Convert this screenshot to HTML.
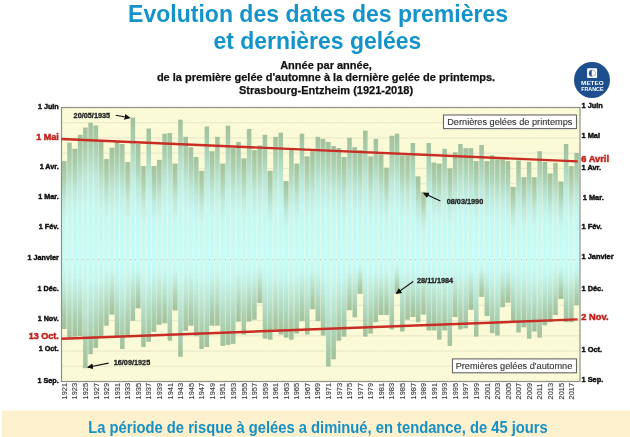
<!DOCTYPE html><html><head><meta charset="utf-8"><style>html,body{margin:0;padding:0;background:#fff;width:630px;height:437px;overflow:hidden}svg{display:block}text{font-family:"Liberation Sans", sans-serif}</style></head><body>
<svg style="will-change:transform" width="630" height="437" viewBox="0 0 630 437">
<defs>
<pattern id="hatch" patternUnits="userSpaceOnUse" width="3.6" height="3.6" patternTransform="rotate(45)"><rect width="3.6" height="3.6" fill="#fbfbd8"/><line x1="0" y1="0" x2="0" y2="3.6" stroke="#f3f3d0" stroke-width="0.9"/></pattern>
<linearGradient id="gt" x1="0" y1="0" x2="0" y2="1"><stop offset="0" stop-color="#a2c19b"/><stop offset="0.18" stop-color="#abd1b3"/><stop offset="0.38" stop-color="#bde9dc"/><stop offset="0.6" stop-color="#c6f8f2"/><stop offset="1" stop-color="#c8fcf8"/></linearGradient>
<linearGradient id="gb" x1="0" y1="0" x2="0" y2="1"><stop offset="0" stop-color="#c8fcf8"/><stop offset="0.22" stop-color="#c5f7f0"/><stop offset="0.5" stop-color="#b9e4d2"/><stop offset="0.8" stop-color="#a8cdae"/><stop offset="1" stop-color="#a2c19b"/></linearGradient>
<marker id="ah" markerWidth="6" markerHeight="6" refX="5" refY="3" orient="auto" markerUnits="userSpaceOnUse"><path d="M0,0 L6,3 L0,6 z" fill="#111"/></marker>
</defs>
<text x="128.1" y="21.6" font-size="23.8" font-weight="bold" fill="#1493cb" textLength="380" lengthAdjust="spacingAndGlyphs">Evolution des dates des premières</text>
<text x="213.4" y="49" font-size="23.8" font-weight="bold" fill="#1493cb" textLength="208" lengthAdjust="spacingAndGlyphs">et dernières gelées</text>
<text x="326" y="69.0" text-anchor="middle" font-size="11" font-weight="bold" fill="#111" stroke="#111" stroke-width="0.25">Année par année,</text>
<text x="326" y="81.1" text-anchor="middle" font-size="11" font-weight="bold" fill="#111" stroke="#111" stroke-width="0.25">de la première gelée d&#39;automne à la dernière gelée de printemps.</text>
<text x="326" y="93.8" text-anchor="middle" font-size="11" font-weight="bold" fill="#111" stroke="#111" stroke-width="0.25">Strasbourg-Entzheim (1921-2018)</text>
<circle cx="592" cy="80" r="18" fill="#1d4f8e"/>
<rect x="587.1" y="68.3" width="10" height="9.8" rx="0.8" fill="#fff"/>
<circle cx="592.3" cy="73.2" r="3.2" fill="none" stroke="#5d7fa8" stroke-width="0.5"/>
<path d="M592.3,69.9 A3.3,3.3 0 0 0 592.3,76.5 A0.7,3.3 0 0 1 592.3,69.9 z" fill="#1d4f8e"/>
<text x="592.4" y="85.1" text-anchor="middle" font-size="5.7" font-weight="bold" fill="#fff" textLength="22.6" lengthAdjust="spacingAndGlyphs">METEO</text>
<text x="592.4" y="90.9" text-anchor="middle" font-size="5.5" font-weight="bold" fill="#fff" textLength="22.4" lengthAdjust="spacingAndGlyphs">FRANCE</text>
<rect x="61.50" y="107.50" width="518.50" height="274.00" fill="url(#hatch)"/>
<line x1="61.50" y1="122.72" x2="580.00" y2="122.72" stroke="#e7e7cb" stroke-width="1"/>
<line x1="61.50" y1="137.94" x2="580.00" y2="137.94" stroke="#e7e7cb" stroke-width="1"/>
<line x1="61.50" y1="153.17" x2="580.00" y2="153.17" stroke="#e7e7cb" stroke-width="1"/>
<line x1="61.50" y1="168.39" x2="580.00" y2="168.39" stroke="#e7e7cb" stroke-width="1"/>
<line x1="61.50" y1="183.61" x2="580.00" y2="183.61" stroke="#e7e7cb" stroke-width="1"/>
<line x1="61.50" y1="198.83" x2="580.00" y2="198.83" stroke="#e7e7cb" stroke-width="1"/>
<line x1="61.50" y1="214.06" x2="580.00" y2="214.06" stroke="#e7e7cb" stroke-width="1"/>
<line x1="61.50" y1="229.28" x2="580.00" y2="229.28" stroke="#e7e7cb" stroke-width="1"/>
<line x1="61.50" y1="244.50" x2="580.00" y2="244.50" stroke="#e7e7cb" stroke-width="1"/>
<line x1="61.50" y1="259.72" x2="580.00" y2="259.72" stroke="#e7e7cb" stroke-width="1"/>
<line x1="61.50" y1="274.94" x2="580.00" y2="274.94" stroke="#e7e7cb" stroke-width="1"/>
<line x1="61.50" y1="290.17" x2="580.00" y2="290.17" stroke="#e7e7cb" stroke-width="1"/>
<line x1="61.50" y1="305.39" x2="580.00" y2="305.39" stroke="#e7e7cb" stroke-width="1"/>
<line x1="61.50" y1="320.61" x2="580.00" y2="320.61" stroke="#e7e7cb" stroke-width="1"/>
<line x1="61.50" y1="335.83" x2="580.00" y2="335.83" stroke="#e7e7cb" stroke-width="1"/>
<line x1="61.50" y1="351.06" x2="580.00" y2="351.06" stroke="#e7e7cb" stroke-width="1"/>
<line x1="61.50" y1="366.28" x2="580.00" y2="366.28" stroke="#e7e7cb" stroke-width="1"/>
<rect x="61.95" y="161.11" width="4.50" height="98.49" fill="url(#gt)"/>
<rect x="61.95" y="259.60" width="4.50" height="69.39" fill="url(#gb)"/>
<rect x="67.23" y="142.56" width="4.50" height="117.04" fill="url(#gt)"/>
<rect x="67.23" y="259.60" width="4.50" height="77.63" fill="url(#gb)"/>
<rect x="72.52" y="148.75" width="4.50" height="110.85" fill="url(#gt)"/>
<rect x="72.52" y="259.60" width="4.50" height="77.02" fill="url(#gb)"/>
<rect x="77.80" y="134.73" width="4.50" height="124.87" fill="url(#gt)"/>
<rect x="77.80" y="259.60" width="4.50" height="76.40" fill="url(#gb)"/>
<rect x="83.08" y="127.52" width="4.50" height="132.08" fill="url(#gt)"/>
<rect x="83.08" y="259.60" width="4.50" height="108.55" fill="url(#gb)"/>
<rect x="88.37" y="122.78" width="4.50" height="136.82" fill="url(#gt)"/>
<rect x="88.37" y="259.60" width="4.50" height="94.54" fill="url(#gb)"/>
<rect x="93.65" y="125.46" width="4.50" height="134.14" fill="url(#gt)"/>
<rect x="93.65" y="259.60" width="4.50" height="88.35" fill="url(#gb)"/>
<rect x="98.93" y="141.95" width="4.50" height="117.65" fill="url(#gt)"/>
<rect x="98.93" y="259.60" width="4.50" height="76.40" fill="url(#gb)"/>
<rect x="104.21" y="159.05" width="4.50" height="100.55" fill="url(#gt)"/>
<rect x="104.21" y="259.60" width="4.50" height="66.09" fill="url(#gb)"/>
<rect x="109.50" y="147.72" width="4.50" height="111.88" fill="url(#gt)"/>
<rect x="109.50" y="259.60" width="4.50" height="54.96" fill="url(#gb)"/>
<rect x="114.78" y="141.95" width="4.50" height="117.65" fill="url(#gt)"/>
<rect x="114.78" y="259.60" width="4.50" height="76.40" fill="url(#gb)"/>
<rect x="120.06" y="144.01" width="4.50" height="115.59" fill="url(#gt)"/>
<rect x="120.06" y="259.60" width="4.50" height="89.38" fill="url(#gb)"/>
<rect x="125.35" y="162.14" width="4.50" height="97.46" fill="url(#gt)"/>
<rect x="125.35" y="259.60" width="4.50" height="76.40" fill="url(#gb)"/>
<rect x="130.63" y="117.63" width="4.50" height="141.97" fill="url(#gt)"/>
<rect x="130.63" y="259.60" width="4.50" height="61.15" fill="url(#gb)"/>
<rect x="135.91" y="144.01" width="4.50" height="115.59" fill="url(#gt)"/>
<rect x="135.91" y="259.60" width="4.50" height="48.78" fill="url(#gb)"/>
<rect x="141.19" y="166.06" width="4.50" height="93.54" fill="url(#gt)"/>
<rect x="141.19" y="259.60" width="4.50" height="87.32" fill="url(#gb)"/>
<rect x="146.48" y="128.55" width="4.50" height="131.05" fill="url(#gt)"/>
<rect x="146.48" y="259.60" width="4.50" height="82.17" fill="url(#gb)"/>
<rect x="151.76" y="166.06" width="4.50" height="93.54" fill="url(#gt)"/>
<rect x="151.76" y="259.60" width="4.50" height="72.28" fill="url(#gb)"/>
<rect x="157.04" y="159.88" width="4.50" height="99.72" fill="url(#gt)"/>
<rect x="157.04" y="259.60" width="4.50" height="65.27" fill="url(#gb)"/>
<rect x="162.33" y="133.70" width="4.50" height="125.90" fill="url(#gt)"/>
<rect x="162.33" y="259.60" width="4.50" height="63.62" fill="url(#gb)"/>
<rect x="167.61" y="133.08" width="4.50" height="126.52" fill="url(#gt)"/>
<rect x="167.61" y="259.60" width="4.50" height="81.14" fill="url(#gb)"/>
<rect x="172.89" y="163.59" width="4.50" height="96.01" fill="url(#gt)"/>
<rect x="172.89" y="259.60" width="4.50" height="50.84" fill="url(#gb)"/>
<rect x="178.18" y="119.69" width="4.50" height="139.91" fill="url(#gt)"/>
<rect x="178.18" y="259.60" width="4.50" height="97.21" fill="url(#gb)"/>
<rect x="183.46" y="136.79" width="4.50" height="122.81" fill="url(#gt)"/>
<rect x="183.46" y="259.60" width="4.50" height="71.25" fill="url(#gb)"/>
<rect x="188.74" y="147.10" width="4.50" height="112.50" fill="url(#gt)"/>
<rect x="188.74" y="259.60" width="4.50" height="66.09" fill="url(#gb)"/>
<rect x="194.03" y="156.99" width="4.50" height="102.61" fill="url(#gt)"/>
<rect x="194.03" y="259.60" width="4.50" height="76.60" fill="url(#gb)"/>
<rect x="199.31" y="170.80" width="4.50" height="88.80" fill="url(#gt)"/>
<rect x="199.31" y="259.60" width="4.50" height="89.38" fill="url(#gb)"/>
<rect x="204.59" y="126.49" width="4.50" height="133.11" fill="url(#gt)"/>
<rect x="204.59" y="259.60" width="4.50" height="87.32" fill="url(#gb)"/>
<rect x="209.87" y="151.22" width="4.50" height="108.38" fill="url(#gt)"/>
<rect x="209.87" y="259.60" width="4.50" height="66.09" fill="url(#gb)"/>
<rect x="215.16" y="136.79" width="4.50" height="122.81" fill="url(#gt)"/>
<rect x="215.16" y="259.60" width="4.50" height="66.09" fill="url(#gb)"/>
<rect x="220.44" y="163.59" width="4.50" height="96.01" fill="url(#gt)"/>
<rect x="220.44" y="259.60" width="4.50" height="86.29" fill="url(#gb)"/>
<rect x="225.72" y="125.66" width="4.50" height="133.94" fill="url(#gt)"/>
<rect x="225.72" y="259.60" width="4.50" height="85.26" fill="url(#gb)"/>
<rect x="231.01" y="148.13" width="4.50" height="111.47" fill="url(#gt)"/>
<rect x="231.01" y="259.60" width="4.50" height="84.23" fill="url(#gb)"/>
<rect x="236.29" y="141.95" width="4.50" height="117.65" fill="url(#gt)"/>
<rect x="236.29" y="259.60" width="4.50" height="61.97" fill="url(#gb)"/>
<rect x="241.57" y="158.43" width="4.50" height="101.17" fill="url(#gt)"/>
<rect x="241.57" y="259.60" width="4.50" height="74.96" fill="url(#gb)"/>
<rect x="246.86" y="128.96" width="4.50" height="130.64" fill="url(#gt)"/>
<rect x="246.86" y="259.60" width="4.50" height="61.97" fill="url(#gb)"/>
<rect x="252.14" y="150.19" width="4.50" height="109.41" fill="url(#gt)"/>
<rect x="252.14" y="259.60" width="4.50" height="60.12" fill="url(#gb)"/>
<rect x="257.42" y="145.45" width="4.50" height="114.15" fill="url(#gt)"/>
<rect x="257.42" y="259.60" width="4.50" height="43.42" fill="url(#gb)"/>
<rect x="262.70" y="134.73" width="4.50" height="124.87" fill="url(#gt)"/>
<rect x="262.70" y="259.60" width="4.50" height="79.08" fill="url(#gb)"/>
<rect x="267.99" y="170.80" width="4.50" height="88.80" fill="url(#gt)"/>
<rect x="267.99" y="259.60" width="4.50" height="80.11" fill="url(#gb)"/>
<rect x="273.27" y="136.79" width="4.50" height="122.81" fill="url(#gt)"/>
<rect x="273.27" y="259.60" width="4.50" height="69.80" fill="url(#gb)"/>
<rect x="278.55" y="132.67" width="4.50" height="126.93" fill="url(#gt)"/>
<rect x="278.55" y="259.60" width="4.50" height="74.96" fill="url(#gb)"/>
<rect x="283.84" y="181.10" width="4.50" height="78.50" fill="url(#gt)"/>
<rect x="283.84" y="259.60" width="4.50" height="78.05" fill="url(#gb)"/>
<rect x="289.12" y="150.19" width="4.50" height="109.41" fill="url(#gt)"/>
<rect x="289.12" y="259.60" width="4.50" height="80.11" fill="url(#gb)"/>
<rect x="294.40" y="163.59" width="4.50" height="96.01" fill="url(#gt)"/>
<rect x="294.40" y="259.60" width="4.50" height="73.93" fill="url(#gb)"/>
<rect x="299.69" y="133.70" width="4.50" height="125.90" fill="url(#gt)"/>
<rect x="299.69" y="259.60" width="4.50" height="61.56" fill="url(#gb)"/>
<rect x="304.97" y="156.37" width="4.50" height="103.23" fill="url(#gt)"/>
<rect x="304.97" y="259.60" width="4.50" height="74.96" fill="url(#gb)"/>
<rect x="310.25" y="151.22" width="4.50" height="108.38" fill="url(#gt)"/>
<rect x="310.25" y="259.60" width="4.50" height="49.61" fill="url(#gb)"/>
<rect x="315.53" y="136.79" width="4.50" height="122.81" fill="url(#gt)"/>
<rect x="315.53" y="259.60" width="4.50" height="61.56" fill="url(#gb)"/>
<rect x="320.82" y="138.85" width="4.50" height="120.75" fill="url(#gt)"/>
<rect x="320.82" y="259.60" width="4.50" height="75.99" fill="url(#gb)"/>
<rect x="326.10" y="141.95" width="4.50" height="117.65" fill="url(#gt)"/>
<rect x="326.10" y="259.60" width="4.50" height="106.90" fill="url(#gb)"/>
<rect x="331.38" y="146.07" width="4.50" height="113.53" fill="url(#gt)"/>
<rect x="331.38" y="259.60" width="4.50" height="99.69" fill="url(#gb)"/>
<rect x="336.67" y="148.13" width="4.50" height="111.47" fill="url(#gt)"/>
<rect x="336.67" y="259.60" width="4.50" height="81.14" fill="url(#gb)"/>
<rect x="341.95" y="156.99" width="4.50" height="102.61" fill="url(#gt)"/>
<rect x="341.95" y="259.60" width="4.50" height="77.02" fill="url(#gb)"/>
<rect x="347.23" y="137.82" width="4.50" height="121.78" fill="url(#gt)"/>
<rect x="347.23" y="259.60" width="4.50" height="50.64" fill="url(#gb)"/>
<rect x="352.51" y="147.10" width="4.50" height="112.50" fill="url(#gt)"/>
<rect x="352.51" y="259.60" width="4.50" height="57.85" fill="url(#gb)"/>
<rect x="357.80" y="150.19" width="4.50" height="109.41" fill="url(#gt)"/>
<rect x="357.80" y="259.60" width="4.50" height="34.15" fill="url(#gb)"/>
<rect x="363.08" y="130.61" width="4.50" height="128.99" fill="url(#gt)"/>
<rect x="363.08" y="259.60" width="4.50" height="77.02" fill="url(#gb)"/>
<rect x="368.36" y="156.37" width="4.50" height="103.23" fill="url(#gt)"/>
<rect x="368.36" y="259.60" width="4.50" height="73.93" fill="url(#gb)"/>
<rect x="373.65" y="138.85" width="4.50" height="120.75" fill="url(#gt)"/>
<rect x="373.65" y="259.60" width="4.50" height="62.59" fill="url(#gb)"/>
<rect x="378.93" y="154.31" width="4.50" height="105.29" fill="url(#gt)"/>
<rect x="378.93" y="259.60" width="4.50" height="55.38" fill="url(#gb)"/>
<rect x="384.21" y="167.71" width="4.50" height="91.89" fill="url(#gt)"/>
<rect x="384.21" y="259.60" width="4.50" height="55.38" fill="url(#gb)"/>
<rect x="389.50" y="135.76" width="4.50" height="123.84" fill="url(#gt)"/>
<rect x="389.50" y="259.60" width="4.50" height="69.80" fill="url(#gb)"/>
<rect x="394.78" y="133.70" width="4.50" height="125.90" fill="url(#gt)"/>
<rect x="394.78" y="259.60" width="4.50" height="33.74" fill="url(#gb)"/>
<rect x="400.06" y="155.34" width="4.50" height="104.26" fill="url(#gt)"/>
<rect x="400.06" y="259.60" width="4.50" height="71.86" fill="url(#gb)"/>
<rect x="405.35" y="155.34" width="4.50" height="104.26" fill="url(#gt)"/>
<rect x="405.35" y="259.60" width="4.50" height="60.12" fill="url(#gb)"/>
<rect x="410.63" y="142.98" width="4.50" height="116.62" fill="url(#gt)"/>
<rect x="410.63" y="259.60" width="4.50" height="57.44" fill="url(#gb)"/>
<rect x="415.91" y="176.36" width="4.50" height="83.24" fill="url(#gt)"/>
<rect x="415.91" y="259.60" width="4.50" height="62.59" fill="url(#gb)"/>
<rect x="421.19" y="191.82" width="4.50" height="67.78" fill="url(#gt)"/>
<rect x="421.19" y="259.60" width="4.50" height="54.96" fill="url(#gb)"/>
<rect x="426.48" y="142.98" width="4.50" height="116.62" fill="url(#gt)"/>
<rect x="426.48" y="259.60" width="4.50" height="70.83" fill="url(#gb)"/>
<rect x="431.76" y="162.56" width="4.50" height="97.04" fill="url(#gt)"/>
<rect x="431.76" y="259.60" width="4.50" height="70.83" fill="url(#gb)"/>
<rect x="437.04" y="163.59" width="4.50" height="96.01" fill="url(#gt)"/>
<rect x="437.04" y="259.60" width="4.50" height="80.11" fill="url(#gb)"/>
<rect x="442.33" y="148.75" width="4.50" height="110.85" fill="url(#gt)"/>
<rect x="442.33" y="259.60" width="4.50" height="70.83" fill="url(#gb)"/>
<rect x="447.61" y="168.33" width="4.50" height="91.27" fill="url(#gt)"/>
<rect x="447.61" y="259.60" width="4.50" height="86.29" fill="url(#gb)"/>
<rect x="452.89" y="152.25" width="4.50" height="107.35" fill="url(#gt)"/>
<rect x="452.89" y="259.60" width="4.50" height="57.44" fill="url(#gb)"/>
<rect x="458.18" y="144.01" width="4.50" height="115.59" fill="url(#gt)"/>
<rect x="458.18" y="259.60" width="4.50" height="69.80" fill="url(#gb)"/>
<rect x="463.46" y="148.13" width="4.50" height="111.47" fill="url(#gt)"/>
<rect x="463.46" y="259.60" width="4.50" height="68.77" fill="url(#gb)"/>
<rect x="468.74" y="148.13" width="4.50" height="111.47" fill="url(#gt)"/>
<rect x="468.74" y="259.60" width="4.50" height="50.22" fill="url(#gb)"/>
<rect x="474.02" y="161.11" width="4.50" height="98.49" fill="url(#gt)"/>
<rect x="474.02" y="259.60" width="4.50" height="77.02" fill="url(#gb)"/>
<rect x="479.31" y="145.04" width="4.50" height="114.56" fill="url(#gt)"/>
<rect x="479.31" y="259.60" width="4.50" height="37.24" fill="url(#gb)"/>
<rect x="484.59" y="161.11" width="4.50" height="98.49" fill="url(#gt)"/>
<rect x="484.59" y="259.60" width="4.50" height="56.41" fill="url(#gb)"/>
<rect x="489.87" y="155.34" width="4.50" height="104.26" fill="url(#gt)"/>
<rect x="489.87" y="259.60" width="4.50" height="73.51" fill="url(#gb)"/>
<rect x="495.16" y="159.46" width="4.50" height="100.14" fill="url(#gt)"/>
<rect x="495.16" y="259.60" width="4.50" height="75.99" fill="url(#gb)"/>
<rect x="500.44" y="159.46" width="4.50" height="100.14" fill="url(#gt)"/>
<rect x="500.44" y="259.60" width="4.50" height="47.54" fill="url(#gb)"/>
<rect x="505.72" y="161.11" width="4.50" height="98.49" fill="url(#gt)"/>
<rect x="505.72" y="259.60" width="4.50" height="43.01" fill="url(#gb)"/>
<rect x="511.00" y="186.88" width="4.50" height="72.72" fill="url(#gt)"/>
<rect x="511.00" y="259.60" width="4.50" height="61.56" fill="url(#gb)"/>
<rect x="516.29" y="160.49" width="4.50" height="99.11" fill="url(#gt)"/>
<rect x="516.29" y="259.60" width="4.50" height="72.89" fill="url(#gb)"/>
<rect x="521.57" y="177.19" width="4.50" height="82.41" fill="url(#gt)"/>
<rect x="521.57" y="259.60" width="4.50" height="67.74" fill="url(#gb)"/>
<rect x="526.85" y="161.94" width="4.50" height="97.66" fill="url(#gt)"/>
<rect x="526.85" y="259.60" width="4.50" height="79.08" fill="url(#gb)"/>
<rect x="532.14" y="177.19" width="4.50" height="82.41" fill="url(#gt)"/>
<rect x="532.14" y="259.60" width="4.50" height="71.86" fill="url(#gb)"/>
<rect x="537.42" y="151.22" width="4.50" height="108.38" fill="url(#gt)"/>
<rect x="537.42" y="259.60" width="4.50" height="78.05" fill="url(#gb)"/>
<rect x="542.70" y="161.94" width="4.50" height="97.66" fill="url(#gt)"/>
<rect x="542.70" y="259.60" width="4.50" height="65.68" fill="url(#gb)"/>
<rect x="547.99" y="173.48" width="4.50" height="86.12" fill="url(#gt)"/>
<rect x="547.99" y="259.60" width="4.50" height="62.59" fill="url(#gb)"/>
<rect x="553.27" y="162.76" width="4.50" height="96.84" fill="url(#gt)"/>
<rect x="553.27" y="259.60" width="4.50" height="55.38" fill="url(#gb)"/>
<rect x="558.55" y="181.52" width="4.50" height="78.08" fill="url(#gt)"/>
<rect x="558.55" y="259.60" width="4.50" height="39.30" fill="url(#gb)"/>
<rect x="563.84" y="144.01" width="4.50" height="115.59" fill="url(#gt)"/>
<rect x="563.84" y="259.60" width="4.50" height="62.59" fill="url(#gb)"/>
<rect x="569.12" y="166.06" width="4.50" height="93.54" fill="url(#gt)"/>
<rect x="569.12" y="259.60" width="4.50" height="62.59" fill="url(#gb)"/>
<rect x="574.40" y="152.87" width="4.50" height="106.73" fill="url(#gt)"/>
<rect x="574.40" y="259.60" width="4.50" height="45.48" fill="url(#gb)"/>
<rect x="66.45" y="161.11" width="0.78" height="98.49" fill="url(#gt)" fill-opacity="0.7"/>
<rect x="66.45" y="259.60" width="0.78" height="69.39" fill="url(#gb)" fill-opacity="0.7"/>
<rect x="66.45" y="161.11" width="0.78" height="167.88" fill="#fff" fill-opacity="0.15"/>
<rect x="66.39" y="259.15" width="0.9" height="0.9" fill="#a8b0a0"/>
<rect x="71.73" y="148.75" width="0.78" height="110.85" fill="url(#gt)" fill-opacity="0.7"/>
<rect x="71.73" y="259.60" width="0.78" height="77.02" fill="url(#gb)" fill-opacity="0.7"/>
<rect x="71.73" y="148.75" width="0.78" height="187.87" fill="#fff" fill-opacity="0.15"/>
<rect x="71.67" y="259.15" width="0.9" height="0.9" fill="#a8b0a0"/>
<rect x="77.02" y="148.75" width="0.78" height="110.85" fill="url(#gt)" fill-opacity="0.7"/>
<rect x="77.02" y="259.60" width="0.78" height="76.40" fill="url(#gb)" fill-opacity="0.7"/>
<rect x="77.02" y="148.75" width="0.78" height="187.25" fill="#fff" fill-opacity="0.15"/>
<rect x="76.96" y="259.15" width="0.9" height="0.9" fill="#a8b0a0"/>
<rect x="82.30" y="134.73" width="0.78" height="124.87" fill="url(#gt)" fill-opacity="0.7"/>
<rect x="82.30" y="259.60" width="0.78" height="76.40" fill="url(#gb)" fill-opacity="0.7"/>
<rect x="82.30" y="134.73" width="0.78" height="201.27" fill="#fff" fill-opacity="0.15"/>
<rect x="82.24" y="259.15" width="0.9" height="0.9" fill="#a8b0a0"/>
<rect x="87.58" y="127.52" width="0.78" height="132.08" fill="url(#gt)" fill-opacity="0.7"/>
<rect x="87.58" y="259.60" width="0.78" height="94.54" fill="url(#gb)" fill-opacity="0.7"/>
<rect x="87.58" y="127.52" width="0.78" height="226.62" fill="#fff" fill-opacity="0.15"/>
<rect x="87.52" y="259.15" width="0.9" height="0.9" fill="#a8b0a0"/>
<rect x="92.87" y="125.46" width="0.78" height="134.14" fill="url(#gt)" fill-opacity="0.7"/>
<rect x="92.87" y="259.60" width="0.78" height="88.35" fill="url(#gb)" fill-opacity="0.7"/>
<rect x="92.87" y="125.46" width="0.78" height="222.49" fill="#fff" fill-opacity="0.15"/>
<rect x="92.81" y="259.15" width="0.9" height="0.9" fill="#a8b0a0"/>
<rect x="98.15" y="141.95" width="0.78" height="117.65" fill="url(#gt)" fill-opacity="0.7"/>
<rect x="98.15" y="259.60" width="0.78" height="76.40" fill="url(#gb)" fill-opacity="0.7"/>
<rect x="98.15" y="141.95" width="0.78" height="194.05" fill="#fff" fill-opacity="0.15"/>
<rect x="98.09" y="259.15" width="0.9" height="0.9" fill="#a8b0a0"/>
<rect x="103.43" y="159.05" width="0.78" height="100.55" fill="url(#gt)" fill-opacity="0.7"/>
<rect x="103.43" y="259.60" width="0.78" height="66.09" fill="url(#gb)" fill-opacity="0.7"/>
<rect x="103.43" y="159.05" width="0.78" height="166.64" fill="#fff" fill-opacity="0.15"/>
<rect x="103.37" y="259.15" width="0.9" height="0.9" fill="#a8b0a0"/>
<rect x="108.71" y="159.05" width="0.78" height="100.55" fill="url(#gt)" fill-opacity="0.7"/>
<rect x="108.71" y="259.60" width="0.78" height="54.96" fill="url(#gb)" fill-opacity="0.7"/>
<rect x="108.71" y="159.05" width="0.78" height="155.51" fill="#fff" fill-opacity="0.15"/>
<rect x="108.66" y="259.15" width="0.9" height="0.9" fill="#a8b0a0"/>
<rect x="114.00" y="147.72" width="0.78" height="111.88" fill="url(#gt)" fill-opacity="0.7"/>
<rect x="114.00" y="259.60" width="0.78" height="54.96" fill="url(#gb)" fill-opacity="0.7"/>
<rect x="114.00" y="147.72" width="0.78" height="166.85" fill="#fff" fill-opacity="0.15"/>
<rect x="113.94" y="259.15" width="0.9" height="0.9" fill="#a8b0a0"/>
<rect x="119.28" y="144.01" width="0.78" height="115.59" fill="url(#gt)" fill-opacity="0.7"/>
<rect x="119.28" y="259.60" width="0.78" height="76.40" fill="url(#gb)" fill-opacity="0.7"/>
<rect x="119.28" y="144.01" width="0.78" height="191.99" fill="#fff" fill-opacity="0.15"/>
<rect x="119.22" y="259.15" width="0.9" height="0.9" fill="#a8b0a0"/>
<rect x="124.56" y="162.14" width="0.78" height="97.46" fill="url(#gt)" fill-opacity="0.7"/>
<rect x="124.56" y="259.60" width="0.78" height="76.40" fill="url(#gb)" fill-opacity="0.7"/>
<rect x="124.56" y="162.14" width="0.78" height="173.85" fill="#fff" fill-opacity="0.15"/>
<rect x="124.50" y="259.15" width="0.9" height="0.9" fill="#a8b0a0"/>
<rect x="129.85" y="162.14" width="0.78" height="97.46" fill="url(#gt)" fill-opacity="0.7"/>
<rect x="129.85" y="259.60" width="0.78" height="61.15" fill="url(#gb)" fill-opacity="0.7"/>
<rect x="129.85" y="162.14" width="0.78" height="158.60" fill="#fff" fill-opacity="0.15"/>
<rect x="129.79" y="259.15" width="0.9" height="0.9" fill="#a8b0a0"/>
<rect x="135.13" y="144.01" width="0.78" height="115.59" fill="url(#gt)" fill-opacity="0.7"/>
<rect x="135.13" y="259.60" width="0.78" height="48.78" fill="url(#gb)" fill-opacity="0.7"/>
<rect x="135.13" y="144.01" width="0.78" height="164.37" fill="#fff" fill-opacity="0.15"/>
<rect x="135.07" y="259.15" width="0.9" height="0.9" fill="#a8b0a0"/>
<rect x="140.41" y="166.06" width="0.78" height="93.54" fill="url(#gt)" fill-opacity="0.7"/>
<rect x="140.41" y="259.60" width="0.78" height="48.78" fill="url(#gb)" fill-opacity="0.7"/>
<rect x="140.41" y="166.06" width="0.78" height="142.32" fill="#fff" fill-opacity="0.15"/>
<rect x="140.35" y="259.15" width="0.9" height="0.9" fill="#a8b0a0"/>
<rect x="145.69" y="166.06" width="0.78" height="93.54" fill="url(#gt)" fill-opacity="0.7"/>
<rect x="145.69" y="259.60" width="0.78" height="82.17" fill="url(#gb)" fill-opacity="0.7"/>
<rect x="145.69" y="166.06" width="0.78" height="175.71" fill="#fff" fill-opacity="0.15"/>
<rect x="145.64" y="259.15" width="0.9" height="0.9" fill="#a8b0a0"/>
<rect x="150.98" y="166.06" width="0.78" height="93.54" fill="url(#gt)" fill-opacity="0.7"/>
<rect x="150.98" y="259.60" width="0.78" height="72.28" fill="url(#gb)" fill-opacity="0.7"/>
<rect x="150.98" y="166.06" width="0.78" height="165.82" fill="#fff" fill-opacity="0.15"/>
<rect x="150.92" y="259.15" width="0.9" height="0.9" fill="#a8b0a0"/>
<rect x="156.26" y="166.06" width="0.78" height="93.54" fill="url(#gt)" fill-opacity="0.7"/>
<rect x="156.26" y="259.60" width="0.78" height="65.27" fill="url(#gb)" fill-opacity="0.7"/>
<rect x="156.26" y="166.06" width="0.78" height="158.81" fill="#fff" fill-opacity="0.15"/>
<rect x="156.20" y="259.15" width="0.9" height="0.9" fill="#a8b0a0"/>
<rect x="161.54" y="159.88" width="0.78" height="99.72" fill="url(#gt)" fill-opacity="0.7"/>
<rect x="161.54" y="259.60" width="0.78" height="63.62" fill="url(#gb)" fill-opacity="0.7"/>
<rect x="161.54" y="159.88" width="0.78" height="163.34" fill="#fff" fill-opacity="0.15"/>
<rect x="161.49" y="259.15" width="0.9" height="0.9" fill="#a8b0a0"/>
<rect x="166.83" y="133.70" width="0.78" height="125.90" fill="url(#gt)" fill-opacity="0.7"/>
<rect x="166.83" y="259.60" width="0.78" height="63.62" fill="url(#gb)" fill-opacity="0.7"/>
<rect x="166.83" y="133.70" width="0.78" height="189.52" fill="#fff" fill-opacity="0.15"/>
<rect x="166.77" y="259.15" width="0.9" height="0.9" fill="#a8b0a0"/>
<rect x="172.11" y="163.59" width="0.78" height="96.01" fill="url(#gt)" fill-opacity="0.7"/>
<rect x="172.11" y="259.60" width="0.78" height="50.84" fill="url(#gb)" fill-opacity="0.7"/>
<rect x="172.11" y="163.59" width="0.78" height="146.86" fill="#fff" fill-opacity="0.15"/>
<rect x="172.05" y="259.15" width="0.9" height="0.9" fill="#a8b0a0"/>
<rect x="177.39" y="163.59" width="0.78" height="96.01" fill="url(#gt)" fill-opacity="0.7"/>
<rect x="177.39" y="259.60" width="0.78" height="50.84" fill="url(#gb)" fill-opacity="0.7"/>
<rect x="177.39" y="163.59" width="0.78" height="146.86" fill="#fff" fill-opacity="0.15"/>
<rect x="177.33" y="259.15" width="0.9" height="0.9" fill="#a8b0a0"/>
<rect x="182.68" y="136.79" width="0.78" height="122.81" fill="url(#gt)" fill-opacity="0.7"/>
<rect x="182.68" y="259.60" width="0.78" height="71.25" fill="url(#gb)" fill-opacity="0.7"/>
<rect x="182.68" y="136.79" width="0.78" height="194.05" fill="#fff" fill-opacity="0.15"/>
<rect x="182.62" y="259.15" width="0.9" height="0.9" fill="#a8b0a0"/>
<rect x="187.96" y="147.10" width="0.78" height="112.50" fill="url(#gt)" fill-opacity="0.7"/>
<rect x="187.96" y="259.60" width="0.78" height="66.09" fill="url(#gb)" fill-opacity="0.7"/>
<rect x="187.96" y="147.10" width="0.78" height="178.60" fill="#fff" fill-opacity="0.15"/>
<rect x="187.90" y="259.15" width="0.9" height="0.9" fill="#a8b0a0"/>
<rect x="193.24" y="156.99" width="0.78" height="102.61" fill="url(#gt)" fill-opacity="0.7"/>
<rect x="193.24" y="259.60" width="0.78" height="66.09" fill="url(#gb)" fill-opacity="0.7"/>
<rect x="193.24" y="156.99" width="0.78" height="168.70" fill="#fff" fill-opacity="0.15"/>
<rect x="193.18" y="259.15" width="0.9" height="0.9" fill="#a8b0a0"/>
<rect x="198.53" y="170.80" width="0.78" height="88.80" fill="url(#gt)" fill-opacity="0.7"/>
<rect x="198.53" y="259.60" width="0.78" height="76.60" fill="url(#gb)" fill-opacity="0.7"/>
<rect x="198.53" y="170.80" width="0.78" height="165.40" fill="#fff" fill-opacity="0.15"/>
<rect x="198.47" y="259.15" width="0.9" height="0.9" fill="#a8b0a0"/>
<rect x="203.81" y="170.80" width="0.78" height="88.80" fill="url(#gt)" fill-opacity="0.7"/>
<rect x="203.81" y="259.60" width="0.78" height="87.32" fill="url(#gb)" fill-opacity="0.7"/>
<rect x="203.81" y="170.80" width="0.78" height="176.12" fill="#fff" fill-opacity="0.15"/>
<rect x="203.75" y="259.15" width="0.9" height="0.9" fill="#a8b0a0"/>
<rect x="209.09" y="151.22" width="0.78" height="108.38" fill="url(#gt)" fill-opacity="0.7"/>
<rect x="209.09" y="259.60" width="0.78" height="66.09" fill="url(#gb)" fill-opacity="0.7"/>
<rect x="209.09" y="151.22" width="0.78" height="174.47" fill="#fff" fill-opacity="0.15"/>
<rect x="209.03" y="259.15" width="0.9" height="0.9" fill="#a8b0a0"/>
<rect x="214.37" y="151.22" width="0.78" height="108.38" fill="url(#gt)" fill-opacity="0.7"/>
<rect x="214.37" y="259.60" width="0.78" height="66.09" fill="url(#gb)" fill-opacity="0.7"/>
<rect x="214.37" y="151.22" width="0.78" height="174.47" fill="#fff" fill-opacity="0.15"/>
<rect x="214.32" y="259.15" width="0.9" height="0.9" fill="#a8b0a0"/>
<rect x="219.66" y="163.59" width="0.78" height="96.01" fill="url(#gt)" fill-opacity="0.7"/>
<rect x="219.66" y="259.60" width="0.78" height="66.09" fill="url(#gb)" fill-opacity="0.7"/>
<rect x="219.66" y="163.59" width="0.78" height="162.11" fill="#fff" fill-opacity="0.15"/>
<rect x="219.60" y="259.15" width="0.9" height="0.9" fill="#a8b0a0"/>
<rect x="224.94" y="163.59" width="0.78" height="96.01" fill="url(#gt)" fill-opacity="0.7"/>
<rect x="224.94" y="259.60" width="0.78" height="85.26" fill="url(#gb)" fill-opacity="0.7"/>
<rect x="224.94" y="163.59" width="0.78" height="181.27" fill="#fff" fill-opacity="0.15"/>
<rect x="224.88" y="259.15" width="0.9" height="0.9" fill="#a8b0a0"/>
<rect x="230.22" y="148.13" width="0.78" height="111.47" fill="url(#gt)" fill-opacity="0.7"/>
<rect x="230.22" y="259.60" width="0.78" height="84.23" fill="url(#gb)" fill-opacity="0.7"/>
<rect x="230.22" y="148.13" width="0.78" height="195.70" fill="#fff" fill-opacity="0.15"/>
<rect x="230.16" y="259.15" width="0.9" height="0.9" fill="#a8b0a0"/>
<rect x="235.51" y="148.13" width="0.78" height="111.47" fill="url(#gt)" fill-opacity="0.7"/>
<rect x="235.51" y="259.60" width="0.78" height="61.97" fill="url(#gb)" fill-opacity="0.7"/>
<rect x="235.51" y="148.13" width="0.78" height="173.44" fill="#fff" fill-opacity="0.15"/>
<rect x="235.45" y="259.15" width="0.9" height="0.9" fill="#a8b0a0"/>
<rect x="240.79" y="158.43" width="0.78" height="101.17" fill="url(#gt)" fill-opacity="0.7"/>
<rect x="240.79" y="259.60" width="0.78" height="61.97" fill="url(#gb)" fill-opacity="0.7"/>
<rect x="240.79" y="158.43" width="0.78" height="163.14" fill="#fff" fill-opacity="0.15"/>
<rect x="240.73" y="259.15" width="0.9" height="0.9" fill="#a8b0a0"/>
<rect x="246.07" y="158.43" width="0.78" height="101.17" fill="url(#gt)" fill-opacity="0.7"/>
<rect x="246.07" y="259.60" width="0.78" height="61.97" fill="url(#gb)" fill-opacity="0.7"/>
<rect x="246.07" y="158.43" width="0.78" height="163.14" fill="#fff" fill-opacity="0.15"/>
<rect x="246.01" y="259.15" width="0.9" height="0.9" fill="#a8b0a0"/>
<rect x="251.36" y="150.19" width="0.78" height="109.41" fill="url(#gt)" fill-opacity="0.7"/>
<rect x="251.36" y="259.60" width="0.78" height="60.12" fill="url(#gb)" fill-opacity="0.7"/>
<rect x="251.36" y="150.19" width="0.78" height="169.53" fill="#fff" fill-opacity="0.15"/>
<rect x="251.30" y="259.15" width="0.9" height="0.9" fill="#a8b0a0"/>
<rect x="256.64" y="150.19" width="0.78" height="109.41" fill="url(#gt)" fill-opacity="0.7"/>
<rect x="256.64" y="259.60" width="0.78" height="43.42" fill="url(#gb)" fill-opacity="0.7"/>
<rect x="256.64" y="150.19" width="0.78" height="152.83" fill="#fff" fill-opacity="0.15"/>
<rect x="256.58" y="259.15" width="0.9" height="0.9" fill="#a8b0a0"/>
<rect x="261.92" y="145.45" width="0.78" height="114.15" fill="url(#gt)" fill-opacity="0.7"/>
<rect x="261.92" y="259.60" width="0.78" height="43.42" fill="url(#gb)" fill-opacity="0.7"/>
<rect x="261.92" y="145.45" width="0.78" height="157.57" fill="#fff" fill-opacity="0.15"/>
<rect x="261.86" y="259.15" width="0.9" height="0.9" fill="#a8b0a0"/>
<rect x="267.20" y="170.80" width="0.78" height="88.80" fill="url(#gt)" fill-opacity="0.7"/>
<rect x="267.20" y="259.60" width="0.78" height="79.08" fill="url(#gb)" fill-opacity="0.7"/>
<rect x="267.20" y="170.80" width="0.78" height="167.88" fill="#fff" fill-opacity="0.15"/>
<rect x="267.15" y="259.15" width="0.9" height="0.9" fill="#a8b0a0"/>
<rect x="272.49" y="170.80" width="0.78" height="88.80" fill="url(#gt)" fill-opacity="0.7"/>
<rect x="272.49" y="259.60" width="0.78" height="69.80" fill="url(#gb)" fill-opacity="0.7"/>
<rect x="272.49" y="170.80" width="0.78" height="158.60" fill="#fff" fill-opacity="0.15"/>
<rect x="272.43" y="259.15" width="0.9" height="0.9" fill="#a8b0a0"/>
<rect x="277.77" y="136.79" width="0.78" height="122.81" fill="url(#gt)" fill-opacity="0.7"/>
<rect x="277.77" y="259.60" width="0.78" height="69.80" fill="url(#gb)" fill-opacity="0.7"/>
<rect x="277.77" y="136.79" width="0.78" height="192.61" fill="#fff" fill-opacity="0.15"/>
<rect x="277.71" y="259.15" width="0.9" height="0.9" fill="#a8b0a0"/>
<rect x="283.05" y="181.10" width="0.78" height="78.50" fill="url(#gt)" fill-opacity="0.7"/>
<rect x="283.05" y="259.60" width="0.78" height="74.96" fill="url(#gb)" fill-opacity="0.7"/>
<rect x="283.05" y="181.10" width="0.78" height="153.45" fill="#fff" fill-opacity="0.15"/>
<rect x="282.99" y="259.15" width="0.9" height="0.9" fill="#a8b0a0"/>
<rect x="288.34" y="181.10" width="0.78" height="78.50" fill="url(#gt)" fill-opacity="0.7"/>
<rect x="288.34" y="259.60" width="0.78" height="78.05" fill="url(#gb)" fill-opacity="0.7"/>
<rect x="288.34" y="181.10" width="0.78" height="156.54" fill="#fff" fill-opacity="0.15"/>
<rect x="288.28" y="259.15" width="0.9" height="0.9" fill="#a8b0a0"/>
<rect x="293.62" y="163.59" width="0.78" height="96.01" fill="url(#gt)" fill-opacity="0.7"/>
<rect x="293.62" y="259.60" width="0.78" height="73.93" fill="url(#gb)" fill-opacity="0.7"/>
<rect x="293.62" y="163.59" width="0.78" height="169.94" fill="#fff" fill-opacity="0.15"/>
<rect x="293.56" y="259.15" width="0.9" height="0.9" fill="#a8b0a0"/>
<rect x="298.90" y="163.59" width="0.78" height="96.01" fill="url(#gt)" fill-opacity="0.7"/>
<rect x="298.90" y="259.60" width="0.78" height="61.56" fill="url(#gb)" fill-opacity="0.7"/>
<rect x="298.90" y="163.59" width="0.78" height="157.57" fill="#fff" fill-opacity="0.15"/>
<rect x="298.84" y="259.15" width="0.9" height="0.9" fill="#a8b0a0"/>
<rect x="304.19" y="156.37" width="0.78" height="103.23" fill="url(#gt)" fill-opacity="0.7"/>
<rect x="304.19" y="259.60" width="0.78" height="61.56" fill="url(#gb)" fill-opacity="0.7"/>
<rect x="304.19" y="156.37" width="0.78" height="164.79" fill="#fff" fill-opacity="0.15"/>
<rect x="304.13" y="259.15" width="0.9" height="0.9" fill="#a8b0a0"/>
<rect x="309.47" y="156.37" width="0.78" height="103.23" fill="url(#gt)" fill-opacity="0.7"/>
<rect x="309.47" y="259.60" width="0.78" height="49.61" fill="url(#gb)" fill-opacity="0.7"/>
<rect x="309.47" y="156.37" width="0.78" height="152.83" fill="#fff" fill-opacity="0.15"/>
<rect x="309.41" y="259.15" width="0.9" height="0.9" fill="#a8b0a0"/>
<rect x="314.75" y="151.22" width="0.78" height="108.38" fill="url(#gt)" fill-opacity="0.7"/>
<rect x="314.75" y="259.60" width="0.78" height="49.61" fill="url(#gb)" fill-opacity="0.7"/>
<rect x="314.75" y="151.22" width="0.78" height="157.99" fill="#fff" fill-opacity="0.15"/>
<rect x="314.69" y="259.15" width="0.9" height="0.9" fill="#a8b0a0"/>
<rect x="320.03" y="138.85" width="0.78" height="120.75" fill="url(#gt)" fill-opacity="0.7"/>
<rect x="320.03" y="259.60" width="0.78" height="61.56" fill="url(#gb)" fill-opacity="0.7"/>
<rect x="320.03" y="138.85" width="0.78" height="182.31" fill="#fff" fill-opacity="0.15"/>
<rect x="319.98" y="259.15" width="0.9" height="0.9" fill="#a8b0a0"/>
<rect x="325.32" y="141.95" width="0.78" height="117.65" fill="url(#gt)" fill-opacity="0.7"/>
<rect x="325.32" y="259.60" width="0.78" height="75.99" fill="url(#gb)" fill-opacity="0.7"/>
<rect x="325.32" y="141.95" width="0.78" height="193.64" fill="#fff" fill-opacity="0.15"/>
<rect x="325.26" y="259.15" width="0.9" height="0.9" fill="#a8b0a0"/>
<rect x="330.60" y="146.07" width="0.78" height="113.53" fill="url(#gt)" fill-opacity="0.7"/>
<rect x="330.60" y="259.60" width="0.78" height="99.69" fill="url(#gb)" fill-opacity="0.7"/>
<rect x="330.60" y="146.07" width="0.78" height="213.22" fill="#fff" fill-opacity="0.15"/>
<rect x="330.54" y="259.15" width="0.9" height="0.9" fill="#a8b0a0"/>
<rect x="335.88" y="148.13" width="0.78" height="111.47" fill="url(#gt)" fill-opacity="0.7"/>
<rect x="335.88" y="259.60" width="0.78" height="81.14" fill="url(#gb)" fill-opacity="0.7"/>
<rect x="335.88" y="148.13" width="0.78" height="192.61" fill="#fff" fill-opacity="0.15"/>
<rect x="335.82" y="259.15" width="0.9" height="0.9" fill="#a8b0a0"/>
<rect x="341.17" y="156.99" width="0.78" height="102.61" fill="url(#gt)" fill-opacity="0.7"/>
<rect x="341.17" y="259.60" width="0.78" height="77.02" fill="url(#gb)" fill-opacity="0.7"/>
<rect x="341.17" y="156.99" width="0.78" height="179.63" fill="#fff" fill-opacity="0.15"/>
<rect x="341.11" y="259.15" width="0.9" height="0.9" fill="#a8b0a0"/>
<rect x="346.45" y="156.99" width="0.78" height="102.61" fill="url(#gt)" fill-opacity="0.7"/>
<rect x="346.45" y="259.60" width="0.78" height="50.64" fill="url(#gb)" fill-opacity="0.7"/>
<rect x="346.45" y="156.99" width="0.78" height="153.24" fill="#fff" fill-opacity="0.15"/>
<rect x="346.39" y="259.15" width="0.9" height="0.9" fill="#a8b0a0"/>
<rect x="351.73" y="147.10" width="0.78" height="112.50" fill="url(#gt)" fill-opacity="0.7"/>
<rect x="351.73" y="259.60" width="0.78" height="50.64" fill="url(#gb)" fill-opacity="0.7"/>
<rect x="351.73" y="147.10" width="0.78" height="163.14" fill="#fff" fill-opacity="0.15"/>
<rect x="351.67" y="259.15" width="0.9" height="0.9" fill="#a8b0a0"/>
<rect x="357.01" y="150.19" width="0.78" height="109.41" fill="url(#gt)" fill-opacity="0.7"/>
<rect x="357.01" y="259.60" width="0.78" height="34.15" fill="url(#gb)" fill-opacity="0.7"/>
<rect x="357.01" y="150.19" width="0.78" height="143.56" fill="#fff" fill-opacity="0.15"/>
<rect x="356.96" y="259.15" width="0.9" height="0.9" fill="#a8b0a0"/>
<rect x="362.30" y="150.19" width="0.78" height="109.41" fill="url(#gt)" fill-opacity="0.7"/>
<rect x="362.30" y="259.60" width="0.78" height="34.15" fill="url(#gb)" fill-opacity="0.7"/>
<rect x="362.30" y="150.19" width="0.78" height="143.56" fill="#fff" fill-opacity="0.15"/>
<rect x="362.24" y="259.15" width="0.9" height="0.9" fill="#a8b0a0"/>
<rect x="367.58" y="156.37" width="0.78" height="103.23" fill="url(#gt)" fill-opacity="0.7"/>
<rect x="367.58" y="259.60" width="0.78" height="73.93" fill="url(#gb)" fill-opacity="0.7"/>
<rect x="367.58" y="156.37" width="0.78" height="177.15" fill="#fff" fill-opacity="0.15"/>
<rect x="367.52" y="259.15" width="0.9" height="0.9" fill="#a8b0a0"/>
<rect x="372.86" y="156.37" width="0.78" height="103.23" fill="url(#gt)" fill-opacity="0.7"/>
<rect x="372.86" y="259.60" width="0.78" height="62.59" fill="url(#gb)" fill-opacity="0.7"/>
<rect x="372.86" y="156.37" width="0.78" height="165.82" fill="#fff" fill-opacity="0.15"/>
<rect x="372.81" y="259.15" width="0.9" height="0.9" fill="#a8b0a0"/>
<rect x="378.15" y="154.31" width="0.78" height="105.29" fill="url(#gt)" fill-opacity="0.7"/>
<rect x="378.15" y="259.60" width="0.78" height="55.38" fill="url(#gb)" fill-opacity="0.7"/>
<rect x="378.15" y="154.31" width="0.78" height="160.66" fill="#fff" fill-opacity="0.15"/>
<rect x="378.09" y="259.15" width="0.9" height="0.9" fill="#a8b0a0"/>
<rect x="383.43" y="167.71" width="0.78" height="91.89" fill="url(#gt)" fill-opacity="0.7"/>
<rect x="383.43" y="259.60" width="0.78" height="55.38" fill="url(#gb)" fill-opacity="0.7"/>
<rect x="383.43" y="167.71" width="0.78" height="147.27" fill="#fff" fill-opacity="0.15"/>
<rect x="383.37" y="259.15" width="0.9" height="0.9" fill="#a8b0a0"/>
<rect x="388.71" y="167.71" width="0.78" height="91.89" fill="url(#gt)" fill-opacity="0.7"/>
<rect x="388.71" y="259.60" width="0.78" height="55.38" fill="url(#gb)" fill-opacity="0.7"/>
<rect x="388.71" y="167.71" width="0.78" height="147.27" fill="#fff" fill-opacity="0.15"/>
<rect x="388.65" y="259.15" width="0.9" height="0.9" fill="#a8b0a0"/>
<rect x="394.00" y="135.76" width="0.78" height="123.84" fill="url(#gt)" fill-opacity="0.7"/>
<rect x="394.00" y="259.60" width="0.78" height="33.74" fill="url(#gb)" fill-opacity="0.7"/>
<rect x="394.00" y="135.76" width="0.78" height="157.57" fill="#fff" fill-opacity="0.15"/>
<rect x="393.94" y="259.15" width="0.9" height="0.9" fill="#a8b0a0"/>
<rect x="399.28" y="155.34" width="0.78" height="104.26" fill="url(#gt)" fill-opacity="0.7"/>
<rect x="399.28" y="259.60" width="0.78" height="33.74" fill="url(#gb)" fill-opacity="0.7"/>
<rect x="399.28" y="155.34" width="0.78" height="137.99" fill="#fff" fill-opacity="0.15"/>
<rect x="399.22" y="259.15" width="0.9" height="0.9" fill="#a8b0a0"/>
<rect x="404.56" y="155.34" width="0.78" height="104.26" fill="url(#gt)" fill-opacity="0.7"/>
<rect x="404.56" y="259.60" width="0.78" height="60.12" fill="url(#gb)" fill-opacity="0.7"/>
<rect x="404.56" y="155.34" width="0.78" height="164.37" fill="#fff" fill-opacity="0.15"/>
<rect x="404.50" y="259.15" width="0.9" height="0.9" fill="#a8b0a0"/>
<rect x="409.85" y="155.34" width="0.78" height="104.26" fill="url(#gt)" fill-opacity="0.7"/>
<rect x="409.85" y="259.60" width="0.78" height="57.44" fill="url(#gb)" fill-opacity="0.7"/>
<rect x="409.85" y="155.34" width="0.78" height="161.69" fill="#fff" fill-opacity="0.15"/>
<rect x="409.79" y="259.15" width="0.9" height="0.9" fill="#a8b0a0"/>
<rect x="415.13" y="176.36" width="0.78" height="83.24" fill="url(#gt)" fill-opacity="0.7"/>
<rect x="415.13" y="259.60" width="0.78" height="57.44" fill="url(#gb)" fill-opacity="0.7"/>
<rect x="415.13" y="176.36" width="0.78" height="140.67" fill="#fff" fill-opacity="0.15"/>
<rect x="415.07" y="259.15" width="0.9" height="0.9" fill="#a8b0a0"/>
<rect x="420.41" y="191.82" width="0.78" height="67.78" fill="url(#gt)" fill-opacity="0.7"/>
<rect x="420.41" y="259.60" width="0.78" height="54.96" fill="url(#gb)" fill-opacity="0.7"/>
<rect x="420.41" y="191.82" width="0.78" height="122.74" fill="#fff" fill-opacity="0.15"/>
<rect x="420.35" y="259.15" width="0.9" height="0.9" fill="#a8b0a0"/>
<rect x="425.69" y="191.82" width="0.78" height="67.78" fill="url(#gt)" fill-opacity="0.7"/>
<rect x="425.69" y="259.60" width="0.78" height="54.96" fill="url(#gb)" fill-opacity="0.7"/>
<rect x="425.69" y="191.82" width="0.78" height="122.74" fill="#fff" fill-opacity="0.15"/>
<rect x="425.64" y="259.15" width="0.9" height="0.9" fill="#a8b0a0"/>
<rect x="430.98" y="162.56" width="0.78" height="97.04" fill="url(#gt)" fill-opacity="0.7"/>
<rect x="430.98" y="259.60" width="0.78" height="70.83" fill="url(#gb)" fill-opacity="0.7"/>
<rect x="430.98" y="162.56" width="0.78" height="167.88" fill="#fff" fill-opacity="0.15"/>
<rect x="430.92" y="259.15" width="0.9" height="0.9" fill="#a8b0a0"/>
<rect x="436.26" y="163.59" width="0.78" height="96.01" fill="url(#gt)" fill-opacity="0.7"/>
<rect x="436.26" y="259.60" width="0.78" height="70.83" fill="url(#gb)" fill-opacity="0.7"/>
<rect x="436.26" y="163.59" width="0.78" height="166.85" fill="#fff" fill-opacity="0.15"/>
<rect x="436.20" y="259.15" width="0.9" height="0.9" fill="#a8b0a0"/>
<rect x="441.54" y="163.59" width="0.78" height="96.01" fill="url(#gt)" fill-opacity="0.7"/>
<rect x="441.54" y="259.60" width="0.78" height="70.83" fill="url(#gb)" fill-opacity="0.7"/>
<rect x="441.54" y="163.59" width="0.78" height="166.85" fill="#fff" fill-opacity="0.15"/>
<rect x="441.48" y="259.15" width="0.9" height="0.9" fill="#a8b0a0"/>
<rect x="446.83" y="168.33" width="0.78" height="91.27" fill="url(#gt)" fill-opacity="0.7"/>
<rect x="446.83" y="259.60" width="0.78" height="70.83" fill="url(#gb)" fill-opacity="0.7"/>
<rect x="446.83" y="168.33" width="0.78" height="162.11" fill="#fff" fill-opacity="0.15"/>
<rect x="446.77" y="259.15" width="0.9" height="0.9" fill="#a8b0a0"/>
<rect x="452.11" y="168.33" width="0.78" height="91.27" fill="url(#gt)" fill-opacity="0.7"/>
<rect x="452.11" y="259.60" width="0.78" height="57.44" fill="url(#gb)" fill-opacity="0.7"/>
<rect x="452.11" y="168.33" width="0.78" height="148.71" fill="#fff" fill-opacity="0.15"/>
<rect x="452.05" y="259.15" width="0.9" height="0.9" fill="#a8b0a0"/>
<rect x="457.39" y="152.25" width="0.78" height="107.35" fill="url(#gt)" fill-opacity="0.7"/>
<rect x="457.39" y="259.60" width="0.78" height="57.44" fill="url(#gb)" fill-opacity="0.7"/>
<rect x="457.39" y="152.25" width="0.78" height="164.79" fill="#fff" fill-opacity="0.15"/>
<rect x="457.33" y="259.15" width="0.9" height="0.9" fill="#a8b0a0"/>
<rect x="462.68" y="148.13" width="0.78" height="111.47" fill="url(#gt)" fill-opacity="0.7"/>
<rect x="462.68" y="259.60" width="0.78" height="68.77" fill="url(#gb)" fill-opacity="0.7"/>
<rect x="462.68" y="148.13" width="0.78" height="180.24" fill="#fff" fill-opacity="0.15"/>
<rect x="462.62" y="259.15" width="0.9" height="0.9" fill="#a8b0a0"/>
<rect x="467.96" y="148.13" width="0.78" height="111.47" fill="url(#gt)" fill-opacity="0.7"/>
<rect x="467.96" y="259.60" width="0.78" height="50.22" fill="url(#gb)" fill-opacity="0.7"/>
<rect x="467.96" y="148.13" width="0.78" height="161.69" fill="#fff" fill-opacity="0.15"/>
<rect x="467.90" y="259.15" width="0.9" height="0.9" fill="#a8b0a0"/>
<rect x="473.24" y="161.11" width="0.78" height="98.49" fill="url(#gt)" fill-opacity="0.7"/>
<rect x="473.24" y="259.60" width="0.78" height="50.22" fill="url(#gb)" fill-opacity="0.7"/>
<rect x="473.24" y="161.11" width="0.78" height="148.71" fill="#fff" fill-opacity="0.15"/>
<rect x="473.18" y="259.15" width="0.9" height="0.9" fill="#a8b0a0"/>
<rect x="478.52" y="161.11" width="0.78" height="98.49" fill="url(#gt)" fill-opacity="0.7"/>
<rect x="478.52" y="259.60" width="0.78" height="37.24" fill="url(#gb)" fill-opacity="0.7"/>
<rect x="478.52" y="161.11" width="0.78" height="135.73" fill="#fff" fill-opacity="0.15"/>
<rect x="478.47" y="259.15" width="0.9" height="0.9" fill="#a8b0a0"/>
<rect x="483.81" y="161.11" width="0.78" height="98.49" fill="url(#gt)" fill-opacity="0.7"/>
<rect x="483.81" y="259.60" width="0.78" height="37.24" fill="url(#gb)" fill-opacity="0.7"/>
<rect x="483.81" y="161.11" width="0.78" height="135.73" fill="#fff" fill-opacity="0.15"/>
<rect x="483.75" y="259.15" width="0.9" height="0.9" fill="#a8b0a0"/>
<rect x="489.09" y="161.11" width="0.78" height="98.49" fill="url(#gt)" fill-opacity="0.7"/>
<rect x="489.09" y="259.60" width="0.78" height="56.41" fill="url(#gb)" fill-opacity="0.7"/>
<rect x="489.09" y="161.11" width="0.78" height="154.89" fill="#fff" fill-opacity="0.15"/>
<rect x="489.03" y="259.15" width="0.9" height="0.9" fill="#a8b0a0"/>
<rect x="494.37" y="159.46" width="0.78" height="100.14" fill="url(#gt)" fill-opacity="0.7"/>
<rect x="494.37" y="259.60" width="0.78" height="73.51" fill="url(#gb)" fill-opacity="0.7"/>
<rect x="494.37" y="159.46" width="0.78" height="173.65" fill="#fff" fill-opacity="0.15"/>
<rect x="494.31" y="259.15" width="0.9" height="0.9" fill="#a8b0a0"/>
<rect x="499.66" y="159.46" width="0.78" height="100.14" fill="url(#gt)" fill-opacity="0.7"/>
<rect x="499.66" y="259.60" width="0.78" height="47.54" fill="url(#gb)" fill-opacity="0.7"/>
<rect x="499.66" y="159.46" width="0.78" height="147.68" fill="#fff" fill-opacity="0.15"/>
<rect x="499.60" y="259.15" width="0.9" height="0.9" fill="#a8b0a0"/>
<rect x="504.94" y="161.11" width="0.78" height="98.49" fill="url(#gt)" fill-opacity="0.7"/>
<rect x="504.94" y="259.60" width="0.78" height="43.01" fill="url(#gb)" fill-opacity="0.7"/>
<rect x="504.94" y="161.11" width="0.78" height="141.50" fill="#fff" fill-opacity="0.15"/>
<rect x="504.88" y="259.15" width="0.9" height="0.9" fill="#a8b0a0"/>
<rect x="510.22" y="186.88" width="0.78" height="72.72" fill="url(#gt)" fill-opacity="0.7"/>
<rect x="510.22" y="259.60" width="0.78" height="43.01" fill="url(#gb)" fill-opacity="0.7"/>
<rect x="510.22" y="186.88" width="0.78" height="115.73" fill="#fff" fill-opacity="0.15"/>
<rect x="510.16" y="259.15" width="0.9" height="0.9" fill="#a8b0a0"/>
<rect x="515.50" y="186.88" width="0.78" height="72.72" fill="url(#gt)" fill-opacity="0.7"/>
<rect x="515.50" y="259.60" width="0.78" height="61.56" fill="url(#gb)" fill-opacity="0.7"/>
<rect x="515.50" y="186.88" width="0.78" height="134.28" fill="#fff" fill-opacity="0.15"/>
<rect x="515.45" y="259.15" width="0.9" height="0.9" fill="#a8b0a0"/>
<rect x="520.79" y="177.19" width="0.78" height="82.41" fill="url(#gt)" fill-opacity="0.7"/>
<rect x="520.79" y="259.60" width="0.78" height="67.74" fill="url(#gb)" fill-opacity="0.7"/>
<rect x="520.79" y="177.19" width="0.78" height="150.15" fill="#fff" fill-opacity="0.15"/>
<rect x="520.73" y="259.15" width="0.9" height="0.9" fill="#a8b0a0"/>
<rect x="526.07" y="177.19" width="0.78" height="82.41" fill="url(#gt)" fill-opacity="0.7"/>
<rect x="526.07" y="259.60" width="0.78" height="67.74" fill="url(#gb)" fill-opacity="0.7"/>
<rect x="526.07" y="177.19" width="0.78" height="150.15" fill="#fff" fill-opacity="0.15"/>
<rect x="526.01" y="259.15" width="0.9" height="0.9" fill="#a8b0a0"/>
<rect x="531.35" y="177.19" width="0.78" height="82.41" fill="url(#gt)" fill-opacity="0.7"/>
<rect x="531.35" y="259.60" width="0.78" height="71.86" fill="url(#gb)" fill-opacity="0.7"/>
<rect x="531.35" y="177.19" width="0.78" height="154.28" fill="#fff" fill-opacity="0.15"/>
<rect x="531.30" y="259.15" width="0.9" height="0.9" fill="#a8b0a0"/>
<rect x="536.64" y="177.19" width="0.78" height="82.41" fill="url(#gt)" fill-opacity="0.7"/>
<rect x="536.64" y="259.60" width="0.78" height="71.86" fill="url(#gb)" fill-opacity="0.7"/>
<rect x="536.64" y="177.19" width="0.78" height="154.28" fill="#fff" fill-opacity="0.15"/>
<rect x="536.58" y="259.15" width="0.9" height="0.9" fill="#a8b0a0"/>
<rect x="541.92" y="161.94" width="0.78" height="97.66" fill="url(#gt)" fill-opacity="0.7"/>
<rect x="541.92" y="259.60" width="0.78" height="65.68" fill="url(#gb)" fill-opacity="0.7"/>
<rect x="541.92" y="161.94" width="0.78" height="163.34" fill="#fff" fill-opacity="0.15"/>
<rect x="541.86" y="259.15" width="0.9" height="0.9" fill="#a8b0a0"/>
<rect x="547.20" y="173.48" width="0.78" height="86.12" fill="url(#gt)" fill-opacity="0.7"/>
<rect x="547.20" y="259.60" width="0.78" height="62.59" fill="url(#gb)" fill-opacity="0.7"/>
<rect x="547.20" y="173.48" width="0.78" height="148.71" fill="#fff" fill-opacity="0.15"/>
<rect x="547.14" y="259.15" width="0.9" height="0.9" fill="#a8b0a0"/>
<rect x="552.49" y="173.48" width="0.78" height="86.12" fill="url(#gt)" fill-opacity="0.7"/>
<rect x="552.49" y="259.60" width="0.78" height="55.38" fill="url(#gb)" fill-opacity="0.7"/>
<rect x="552.49" y="173.48" width="0.78" height="141.50" fill="#fff" fill-opacity="0.15"/>
<rect x="552.43" y="259.15" width="0.9" height="0.9" fill="#a8b0a0"/>
<rect x="557.77" y="181.52" width="0.78" height="78.08" fill="url(#gt)" fill-opacity="0.7"/>
<rect x="557.77" y="259.60" width="0.78" height="39.30" fill="url(#gb)" fill-opacity="0.7"/>
<rect x="557.77" y="181.52" width="0.78" height="117.38" fill="#fff" fill-opacity="0.15"/>
<rect x="557.71" y="259.15" width="0.9" height="0.9" fill="#a8b0a0"/>
<rect x="563.05" y="181.52" width="0.78" height="78.08" fill="url(#gt)" fill-opacity="0.7"/>
<rect x="563.05" y="259.60" width="0.78" height="39.30" fill="url(#gb)" fill-opacity="0.7"/>
<rect x="563.05" y="181.52" width="0.78" height="117.38" fill="#fff" fill-opacity="0.15"/>
<rect x="562.99" y="259.15" width="0.9" height="0.9" fill="#a8b0a0"/>
<rect x="568.34" y="166.06" width="0.78" height="93.54" fill="url(#gt)" fill-opacity="0.7"/>
<rect x="568.34" y="259.60" width="0.78" height="62.59" fill="url(#gb)" fill-opacity="0.7"/>
<rect x="568.34" y="166.06" width="0.78" height="156.13" fill="#fff" fill-opacity="0.15"/>
<rect x="568.28" y="259.15" width="0.9" height="0.9" fill="#a8b0a0"/>
<rect x="573.62" y="166.06" width="0.78" height="93.54" fill="url(#gt)" fill-opacity="0.7"/>
<rect x="573.62" y="259.60" width="0.78" height="45.48" fill="url(#gb)" fill-opacity="0.7"/>
<rect x="573.62" y="166.06" width="0.78" height="139.02" fill="#fff" fill-opacity="0.15"/>
<rect x="573.56" y="259.15" width="0.9" height="0.9" fill="#a8b0a0"/>
<rect x="61.50" y="107.50" width="518.50" height="274.00" fill="none" stroke="#8f8f86" stroke-width="1.2"/>
<line x1="61.5" y1="139" x2="577.6" y2="161.4" stroke="#c82e26" stroke-width="2.4"/>
<line x1="61.5" y1="338.8" x2="577.6" y2="319.4" stroke="#c82e26" stroke-width="2.4"/>
<rect x="443.5" y="115" width="133" height="13.6" fill="#fff" stroke="#666" stroke-width="1.1"/>
<text x="509.8" y="124.9" text-anchor="middle" font-size="9.2" fill="#333" stroke="#333" stroke-width="0.12">Dernières gelées de printemps</text>
<rect x="452.5" y="358.9" width="124" height="13.9" fill="#fff" stroke="#666" stroke-width="1.1"/>
<text x="514" y="368.6" text-anchor="middle" font-size="9.2" fill="#333" stroke="#333" stroke-width="0.12">Premières gelées d&#39;automne</text>
<text x="58.7" y="108.5" text-anchor="end" font-size="7.2" font-weight="bold" fill="#111" stroke="#111" stroke-width="0.45">1 Juin</text>
<text x="58.7" y="139.7" text-anchor="end" font-size="9" font-weight="bold" fill="#c2221c" stroke="#c2221c" stroke-width="0.5">1 Mai</text>
<text x="58.7" y="168.6" text-anchor="end" font-size="7.2" font-weight="bold" fill="#111" stroke="#111" stroke-width="0.45">1 Avr.</text>
<text x="58.7" y="199.2" text-anchor="end" font-size="7.2" font-weight="bold" fill="#111" stroke="#111" stroke-width="0.45">1 Mar.</text>
<text x="58.7" y="228.9" text-anchor="end" font-size="7.2" font-weight="bold" fill="#111" stroke="#111" stroke-width="0.45">1 Fév.</text>
<text x="58.7" y="259.6" text-anchor="end" font-size="7.2" font-weight="bold" fill="#111" stroke="#111" stroke-width="0.45">1 Janvier</text>
<text x="58.7" y="290.6" text-anchor="end" font-size="7.2" font-weight="bold" fill="#111" stroke="#111" stroke-width="0.45">1 Déc.</text>
<text x="58.7" y="321.0" text-anchor="end" font-size="7.2" font-weight="bold" fill="#111" stroke="#111" stroke-width="0.45">1 Nov.</text>
<text x="58.7" y="338.8" text-anchor="end" font-size="9" font-weight="bold" fill="#c2221c" stroke="#c2221c" stroke-width="0.5">13 Oct.</text>
<text x="58.7" y="351.4" text-anchor="end" font-size="7.2" font-weight="bold" fill="#111" stroke="#111" stroke-width="0.45">1 Oct.</text>
<text x="58.7" y="382.6" text-anchor="end" font-size="7.2" font-weight="bold" fill="#111" stroke="#111" stroke-width="0.45">1 Sep.</text>
<text x="581.5" y="108.2" font-size="7.4" font-weight="bold" fill="#111" stroke="#111" stroke-width="0.45">1 Juin</text>
<text x="581.5" y="137.6" font-size="7.4" font-weight="bold" fill="#111" stroke="#111" stroke-width="0.45">1 Mai</text>
<text x="581.3" y="161.7" font-size="9.3" font-weight="bold" fill="#c2221c" stroke="#c2221c" stroke-width="0.5">6 Avril</text>
<text x="581.5" y="170.0" font-size="7.4" font-weight="bold" fill="#111" stroke="#111" stroke-width="0.45">1 Avr.</text>
<text x="582.8" y="199.7" font-size="7.4" font-weight="bold" fill="#111" stroke="#111" stroke-width="0.45">1 Mar.</text>
<text x="581.5" y="229.2" font-size="7.4" font-weight="bold" fill="#111" stroke="#111" stroke-width="0.45">1 Fév.</text>
<text x="581.5" y="259.2" font-size="7.4" font-weight="bold" fill="#111" stroke="#111" stroke-width="0.45">1 Janvier</text>
<text x="581.5" y="290.5" font-size="7.4" font-weight="bold" fill="#111" stroke="#111" stroke-width="0.45">1 Déc.</text>
<text x="581.3" y="320.4" font-size="9.3" font-weight="bold" fill="#c2221c" stroke="#c2221c" stroke-width="0.5">2 Nov.</text>
<text x="581.5" y="352.2" font-size="7.4" font-weight="bold" fill="#111" stroke="#111" stroke-width="0.45">1 Oct.</text>
<text x="581.5" y="382.0" font-size="7.4" font-weight="bold" fill="#111" stroke="#111" stroke-width="0.45">1 Sep.</text>
<text transform="translate(64.20,399.5) rotate(-90)" font-size="7.45" fill="#444" stroke="#444" stroke-width="0.15" x="0" y="0" dy="2.7">1921</text>
<text transform="translate(74.77,399.5) rotate(-90)" font-size="7.45" fill="#444" stroke="#444" stroke-width="0.15" x="0" y="0" dy="2.7">1923</text>
<text transform="translate(85.33,399.5) rotate(-90)" font-size="7.45" fill="#444" stroke="#444" stroke-width="0.15" x="0" y="0" dy="2.7">1925</text>
<text transform="translate(95.90,399.5) rotate(-90)" font-size="7.45" fill="#444" stroke="#444" stroke-width="0.15" x="0" y="0" dy="2.7">1927</text>
<text transform="translate(106.46,399.5) rotate(-90)" font-size="7.45" fill="#444" stroke="#444" stroke-width="0.15" x="0" y="0" dy="2.7">1929</text>
<text transform="translate(117.03,399.5) rotate(-90)" font-size="7.45" fill="#444" stroke="#444" stroke-width="0.15" x="0" y="0" dy="2.7">1931</text>
<text transform="translate(127.60,399.5) rotate(-90)" font-size="7.45" fill="#444" stroke="#444" stroke-width="0.15" x="0" y="0" dy="2.7">1933</text>
<text transform="translate(138.16,399.5) rotate(-90)" font-size="7.45" fill="#444" stroke="#444" stroke-width="0.15" x="0" y="0" dy="2.7">1935</text>
<text transform="translate(148.73,399.5) rotate(-90)" font-size="7.45" fill="#444" stroke="#444" stroke-width="0.15" x="0" y="0" dy="2.7">1937</text>
<text transform="translate(159.29,399.5) rotate(-90)" font-size="7.45" fill="#444" stroke="#444" stroke-width="0.15" x="0" y="0" dy="2.7">1939</text>
<text transform="translate(169.86,399.5) rotate(-90)" font-size="7.45" fill="#444" stroke="#444" stroke-width="0.15" x="0" y="0" dy="2.7">1941</text>
<text transform="translate(180.43,399.5) rotate(-90)" font-size="7.45" fill="#444" stroke="#444" stroke-width="0.15" x="0" y="0" dy="2.7">1943</text>
<text transform="translate(190.99,399.5) rotate(-90)" font-size="7.45" fill="#444" stroke="#444" stroke-width="0.15" x="0" y="0" dy="2.7">1945</text>
<text transform="translate(201.56,399.5) rotate(-90)" font-size="7.45" fill="#444" stroke="#444" stroke-width="0.15" x="0" y="0" dy="2.7">1947</text>
<text transform="translate(212.12,399.5) rotate(-90)" font-size="7.45" fill="#444" stroke="#444" stroke-width="0.15" x="0" y="0" dy="2.7">1949</text>
<text transform="translate(222.69,399.5) rotate(-90)" font-size="7.45" fill="#444" stroke="#444" stroke-width="0.15" x="0" y="0" dy="2.7">1951</text>
<text transform="translate(233.26,399.5) rotate(-90)" font-size="7.45" fill="#444" stroke="#444" stroke-width="0.15" x="0" y="0" dy="2.7">1953</text>
<text transform="translate(243.82,399.5) rotate(-90)" font-size="7.45" fill="#444" stroke="#444" stroke-width="0.15" x="0" y="0" dy="2.7">1955</text>
<text transform="translate(254.39,399.5) rotate(-90)" font-size="7.45" fill="#444" stroke="#444" stroke-width="0.15" x="0" y="0" dy="2.7">1957</text>
<text transform="translate(264.95,399.5) rotate(-90)" font-size="7.45" fill="#444" stroke="#444" stroke-width="0.15" x="0" y="0" dy="2.7">1959</text>
<text transform="translate(275.52,399.5) rotate(-90)" font-size="7.45" fill="#444" stroke="#444" stroke-width="0.15" x="0" y="0" dy="2.7">1961</text>
<text transform="translate(286.09,399.5) rotate(-90)" font-size="7.45" fill="#444" stroke="#444" stroke-width="0.15" x="0" y="0" dy="2.7">1963</text>
<text transform="translate(296.65,399.5) rotate(-90)" font-size="7.45" fill="#444" stroke="#444" stroke-width="0.15" x="0" y="0" dy="2.7">1965</text>
<text transform="translate(307.22,399.5) rotate(-90)" font-size="7.45" fill="#444" stroke="#444" stroke-width="0.15" x="0" y="0" dy="2.7">1967</text>
<text transform="translate(317.78,399.5) rotate(-90)" font-size="7.45" fill="#444" stroke="#444" stroke-width="0.15" x="0" y="0" dy="2.7">1969</text>
<text transform="translate(328.35,399.5) rotate(-90)" font-size="7.45" fill="#444" stroke="#444" stroke-width="0.15" x="0" y="0" dy="2.7">1971</text>
<text transform="translate(338.92,399.5) rotate(-90)" font-size="7.45" fill="#444" stroke="#444" stroke-width="0.15" x="0" y="0" dy="2.7">1973</text>
<text transform="translate(349.48,399.5) rotate(-90)" font-size="7.45" fill="#444" stroke="#444" stroke-width="0.15" x="0" y="0" dy="2.7">1975</text>
<text transform="translate(360.05,399.5) rotate(-90)" font-size="7.45" fill="#444" stroke="#444" stroke-width="0.15" x="0" y="0" dy="2.7">1977</text>
<text transform="translate(370.61,399.5) rotate(-90)" font-size="7.45" fill="#444" stroke="#444" stroke-width="0.15" x="0" y="0" dy="2.7">1979</text>
<text transform="translate(381.18,399.5) rotate(-90)" font-size="7.45" fill="#444" stroke="#444" stroke-width="0.15" x="0" y="0" dy="2.7">1981</text>
<text transform="translate(391.75,399.5) rotate(-90)" font-size="7.45" fill="#444" stroke="#444" stroke-width="0.15" x="0" y="0" dy="2.7">1983</text>
<text transform="translate(402.31,399.5) rotate(-90)" font-size="7.45" fill="#444" stroke="#444" stroke-width="0.15" x="0" y="0" dy="2.7">1985</text>
<text transform="translate(412.88,399.5) rotate(-90)" font-size="7.45" fill="#444" stroke="#444" stroke-width="0.15" x="0" y="0" dy="2.7">1987</text>
<text transform="translate(423.44,399.5) rotate(-90)" font-size="7.45" fill="#444" stroke="#444" stroke-width="0.15" x="0" y="0" dy="2.7">1989</text>
<text transform="translate(434.01,399.5) rotate(-90)" font-size="7.45" fill="#444" stroke="#444" stroke-width="0.15" x="0" y="0" dy="2.7">1991</text>
<text transform="translate(444.58,399.5) rotate(-90)" font-size="7.45" fill="#444" stroke="#444" stroke-width="0.15" x="0" y="0" dy="2.7">1993</text>
<text transform="translate(455.14,399.5) rotate(-90)" font-size="7.45" fill="#444" stroke="#444" stroke-width="0.15" x="0" y="0" dy="2.7">1995</text>
<text transform="translate(465.71,399.5) rotate(-90)" font-size="7.45" fill="#444" stroke="#444" stroke-width="0.15" x="0" y="0" dy="2.7">1997</text>
<text transform="translate(476.27,399.5) rotate(-90)" font-size="7.45" fill="#444" stroke="#444" stroke-width="0.15" x="0" y="0" dy="2.7">1999</text>
<text transform="translate(486.84,399.5) rotate(-90)" font-size="7.45" fill="#444" stroke="#444" stroke-width="0.15" x="0" y="0" dy="2.7">2001</text>
<text transform="translate(497.41,399.5) rotate(-90)" font-size="7.45" fill="#444" stroke="#444" stroke-width="0.15" x="0" y="0" dy="2.7">2003</text>
<text transform="translate(507.97,399.5) rotate(-90)" font-size="7.45" fill="#444" stroke="#444" stroke-width="0.15" x="0" y="0" dy="2.7">2005</text>
<text transform="translate(518.54,399.5) rotate(-90)" font-size="7.45" fill="#444" stroke="#444" stroke-width="0.15" x="0" y="0" dy="2.7">2007</text>
<text transform="translate(529.10,399.5) rotate(-90)" font-size="7.45" fill="#444" stroke="#444" stroke-width="0.15" x="0" y="0" dy="2.7">2009</text>
<text transform="translate(539.67,399.5) rotate(-90)" font-size="7.45" fill="#444" stroke="#444" stroke-width="0.15" x="0" y="0" dy="2.7">2011</text>
<text transform="translate(550.24,399.5) rotate(-90)" font-size="7.45" fill="#444" stroke="#444" stroke-width="0.15" x="0" y="0" dy="2.7">2013</text>
<text transform="translate(560.80,399.5) rotate(-90)" font-size="7.45" fill="#444" stroke="#444" stroke-width="0.15" x="0" y="0" dy="2.7">2015</text>
<text transform="translate(571.37,399.5) rotate(-90)" font-size="7.45" fill="#444" stroke="#444" stroke-width="0.15" x="0" y="0" dy="2.7">2017</text>
<text x="73.6" y="117.7" font-size="7.3" font-weight="bold" fill="#222" stroke="#222" stroke-width="0.3">20/05/1935</text>
<line x1="115.8" y1="115.2" x2="129.6" y2="117.8" stroke="#111" stroke-width="1.1" marker-end="url(#ah)"/>
<text x="446.7" y="204.1" font-size="7.3" font-weight="bold" fill="#222" stroke="#222" stroke-width="0.3">08/03/1990</text>
<line x1="440.4" y1="201.0" x2="423.8" y2="193.2" stroke="#111" stroke-width="1.1" marker-end="url(#ah)"/>
<text x="417.0" y="282.8" font-size="7.3" font-weight="bold" fill="#222" stroke="#222" stroke-width="0.3">28/11/1984</text>
<line x1="413.2" y1="281.5" x2="396.5" y2="293.4" stroke="#111" stroke-width="1.1" marker-end="url(#ah)"/>
<text x="113.7" y="365.2" font-size="7.3" font-weight="bold" fill="#222" stroke="#222" stroke-width="0.3">16/09/1925</text>
<line x1="108.6" y1="363.1" x2="88.0" y2="367.2" stroke="#111" stroke-width="1.1" marker-end="url(#ah)"/>
<rect x="2" y="410.7" width="628" height="26.3" fill="#fdf0cd"/>
<text x="88.2" y="432.8" font-size="15.8" font-weight="bold" fill="#1790c6" textLength="459.6" lengthAdjust="spacingAndGlyphs">La période de risque à gelées a diminué, en tendance, de 45 jours</text>
</svg></body></html>
